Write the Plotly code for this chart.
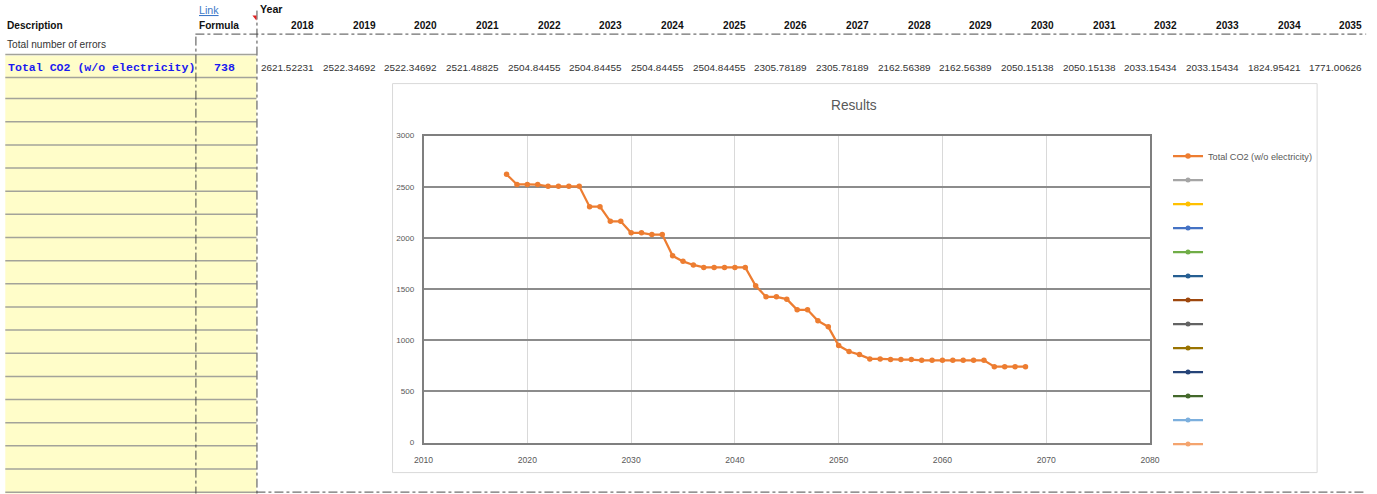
import plotly.graph_objects as go

# figure size and the page-pixel -> figure-pixel transform used for layout
W, H = 1390, 500
SX, SY = 0.985, 0.982
OX, OY = 9.7, 3.4

# ---- data -----------------------------------------------------------------
years = [2018, 2019, 2020, 2021, 2022, 2023, 2024, 2025, 2026, 2027,
         2028, 2029, 2030, 2031, 2032, 2033, 2034, 2035, 2036, 2037,
         2038, 2039, 2040, 2041, 2042, 2043, 2044, 2045, 2046, 2047,
         2048, 2049, 2050, 2051, 2052, 2053, 2054, 2055, 2056, 2057,
         2058, 2059, 2060, 2061, 2062, 2063, 2064, 2065, 2066, 2067, 2068]

co2 = [2621.52231, 2522.34692, 2522.34692, 2521.48825, 2504.84455,
       2504.84455, 2504.84455, 2504.84455, 2305.78189, 2305.78189,
       2162.56389, 2162.56389, 2050.15138, 2050.15138, 2033.15434,
       2033.15434, 1824.95421, 1771.00626, 1736, 1712,
       1712, 1712, 1712, 1712, 1532, 1425, 1425, 1402, 1298, 1298,
       1190, 1131, 948, 890, 860, 818, 818, 812, 812, 812,
       804, 804, 804, 804, 804, 804, 804, 742, 742, 742, 742]

table_years = years[:18]
table_values = co2[:18]
formula_value = 738

series_name = "Total CO2 (w/o electricity)"
errors_label = "Total number of errors"

series_color = "#ED7D31"
empty_series_colors = ["#A5A5A5", "#FFC000", "#4472C4", "#70AD47", "#255E91",
                       "#9E480E", "#636363", "#997300", "#264478", "#43682B",
                       "#7CAFDD", "#F4A46E"]

x_ticks = [2010, 2020, 2030, 2040, 2050, 2060, 2070, 2080]
y_ticks = [0, 500, 1000, 1500, 2000, 2500, 3000]


# ---- helpers: page pixel -> paper ----------------------------------------
def fx(x):
    return ((x - OX) / SX) / W


def fy(y):
    return 1 - ((y - OY) / SY) / H


def fs(size):
    return round(size / SX, 2)


SANS = "Liberation Sans, Arial, sans-serif"
MONO = "Liberation Mono, Courier New, monospace"
CHART_TXT = "#595959"

fig = go.Figure()

# main series
fig.add_trace(go.Scatter(
    x=years, y=co2, name=series_name, mode="lines+markers",
    line=dict(color=series_color, width=2.25),
    marker=dict(color=series_color, size=5.5),
    legendgroup="s0",
))

# unnamed series that only appear in the legend
for i, c in enumerate(empty_series_colors):
    fig.add_trace(go.Scatter(
        x=[None], y=[None], name="", mode="lines+markers",
        line=dict(color=c, width=2.25), marker=dict(color=c, size=5),
        legendgroup=f"s{i + 1}",
    ))

shapes = []
annotations = []

# chart frame
shapes.append(dict(type="rect", xref="paper", yref="paper", layer="below",
                   x0=fx(392), x1=fx(1316), y0=fy(472), y1=fy(83),
                   line=dict(color="#D9D9D9", width=1), fillcolor="white"))

# yellow input columns with row rules
shapes.append(dict(type="rect", xref="paper", yref="paper", layer="below",
                   x0=fx(5), x1=fx(256), y0=fy(493), y1=fy(55),
                   line=dict(width=0), fillcolor="#FFFDC9"))
rule_rows = [54, 77] + [98 + 23.15 * k for k in range(18)]
for ry in rule_rows:
    shapes.append(dict(type="line", xref="paper", yref="paper", layer="below",
                       x0=fx(5), x1=fx(256), y0=fy(ry), y1=fy(ry),
                       line=dict(color="#A3A39A", width=1.5)))

# dashed sheet borders
dash_style = dict(color="#4A4A4A", width=1, dash="dashdot")
shapes.append(dict(type="line", xref="paper", yref="paper", layer="below",
                   x0=fx(195.5), x1=fx(195.5), y0=fy(36), y1=fy(493), line=dash_style))
shapes.append(dict(type="line", xref="paper", yref="paper", layer="below",
                   x0=fx(256.5), x1=fx(256.5), y0=fy(10), y1=fy(493), line=dash_style))
shapes.append(dict(type="line", xref="paper", yref="paper", layer="below",
                   x0=fx(195), x1=fx(1365), y0=fy(33.5), y1=fy(33.5), line=dash_style))
shapes.append(dict(type="line", xref="paper", yref="paper", layer="below",
                   x0=fx(256), x1=fx(1365), y0=fy(491.5), y1=fy(491.5), line=dash_style))

# comment indicator
shapes.append(dict(type="path", xref="paper", yref="paper",
                   path=f"M {fx(252)} {fy(15)} L {fx(256)} {fy(15)} L {fx(256)} {fy(20)} Z",
                   fillcolor="#E02020", line=dict(width=0)))

# header texts
annotations += [
    dict(text="<u>Link</u>", x=fx(197), y=fy(9), xanchor="left", yanchor="middle",
         font=dict(family=SANS, size=fs(10.5), color="#3D78C8")),
    dict(text="<b>Year</b>", x=fx(258), y=fy(8.5), xanchor="left", yanchor="middle",
         font=dict(family=SANS, size=fs(10.5), color="#111")),
    dict(text="<b>Description</b>", x=fx(5), y=fy(25), xanchor="left", yanchor="middle",
         font=dict(family=SANS, size=fs(10), color="#111")),
    dict(text="<b>Formula</b>", x=fx(197), y=fy(25), xanchor="left", yanchor="middle",
         font=dict(family=SANS, size=fs(10), color="#111")),
    dict(text=errors_label, x=fx(5), y=fy(44), xanchor="left", yanchor="middle",
         font=dict(family=SANS, size=fs(10), color="#333")),
    dict(text=f"<b>{series_name}</b>", x=fx(6), y=fy(67), xanchor="left", yanchor="middle",
         font=dict(family=MONO, size=fs(11.4), color="#1A1AF0")),
    dict(text=f"<b>{formula_value}</b>", x=fx(237), y=fy(67), xanchor="right", yanchor="middle",
         font=dict(family=MONO, size=fs(11.4), color="#1A1AF0")),
]

# year columns and their values
for i, (yr, v) in enumerate(zip(table_years, table_values)):
    right = 315.5 + 61.62 * i
    annotations.append(dict(text=f"<b>{yr}</b>", x=fx(right), y=fy(25),
                            xanchor="right", yanchor="middle",
                            font=dict(family=SANS, size=fs(10), color="#111")))
    annotations.append(dict(text=f"{v:.5f}", x=fx(right), y=fy(67),
                            xanchor="right", yanchor="middle",
                            font=dict(family=SANS, size=fs(9.8), color="#333")))

# chart title
annotations.append(dict(text="Results", x=fx(853), y=fy(105), xanchor="center",
                        yanchor="middle", font=dict(family=SANS, size=fs(13.5), color=CHART_TXT)))

for a in annotations:
    a.update(xref="paper", yref="paper", showarrow=False)

fig.update_layout(
    width=W, height=H,
    margin=dict(l=0, r=0, t=0, b=0),
    paper_bgcolor="white",
    plot_bgcolor="rgba(0,0,0,0)",
    shapes=shapes,
    annotations=annotations,
    showlegend=True,
    legend=dict(x=fx(1167), y=fy(141), xanchor="left", yanchor="top",
                traceorder="grouped", tracegroupgap=5, itemwidth=30,
                bgcolor="rgba(0,0,0,0)",
                font=dict(family=SANS, size=fs(9), color=CHART_TXT)),
    xaxis=dict(domain=[fx(423), fx(1149)], range=[2010, 2080],
               tickvals=x_ticks, showgrid=True, gridcolor="#D9D9D9", gridwidth=1,
               showline=True, linecolor="#7F7F7F", linewidth=1.5, mirror=True,
               zeroline=False, ticks="", ticklabelstandoff=8,
               tickfont=dict(family=SANS, size=fs(8.5), color=CHART_TXT)),
    yaxis=dict(domain=[fy(442), fy(135)], range=[0, 3000],
               tickvals=y_ticks, showgrid=True, gridcolor="#8C8C8C", gridwidth=2,
               showline=True, linecolor="#7F7F7F", linewidth=1.5, mirror=True,
               zeroline=False, ticks="", ticklabelstandoff=6,
               tickfont=dict(family=SANS, size=fs(8), color=CHART_TXT)),
)

fig.write_html("out.html")
